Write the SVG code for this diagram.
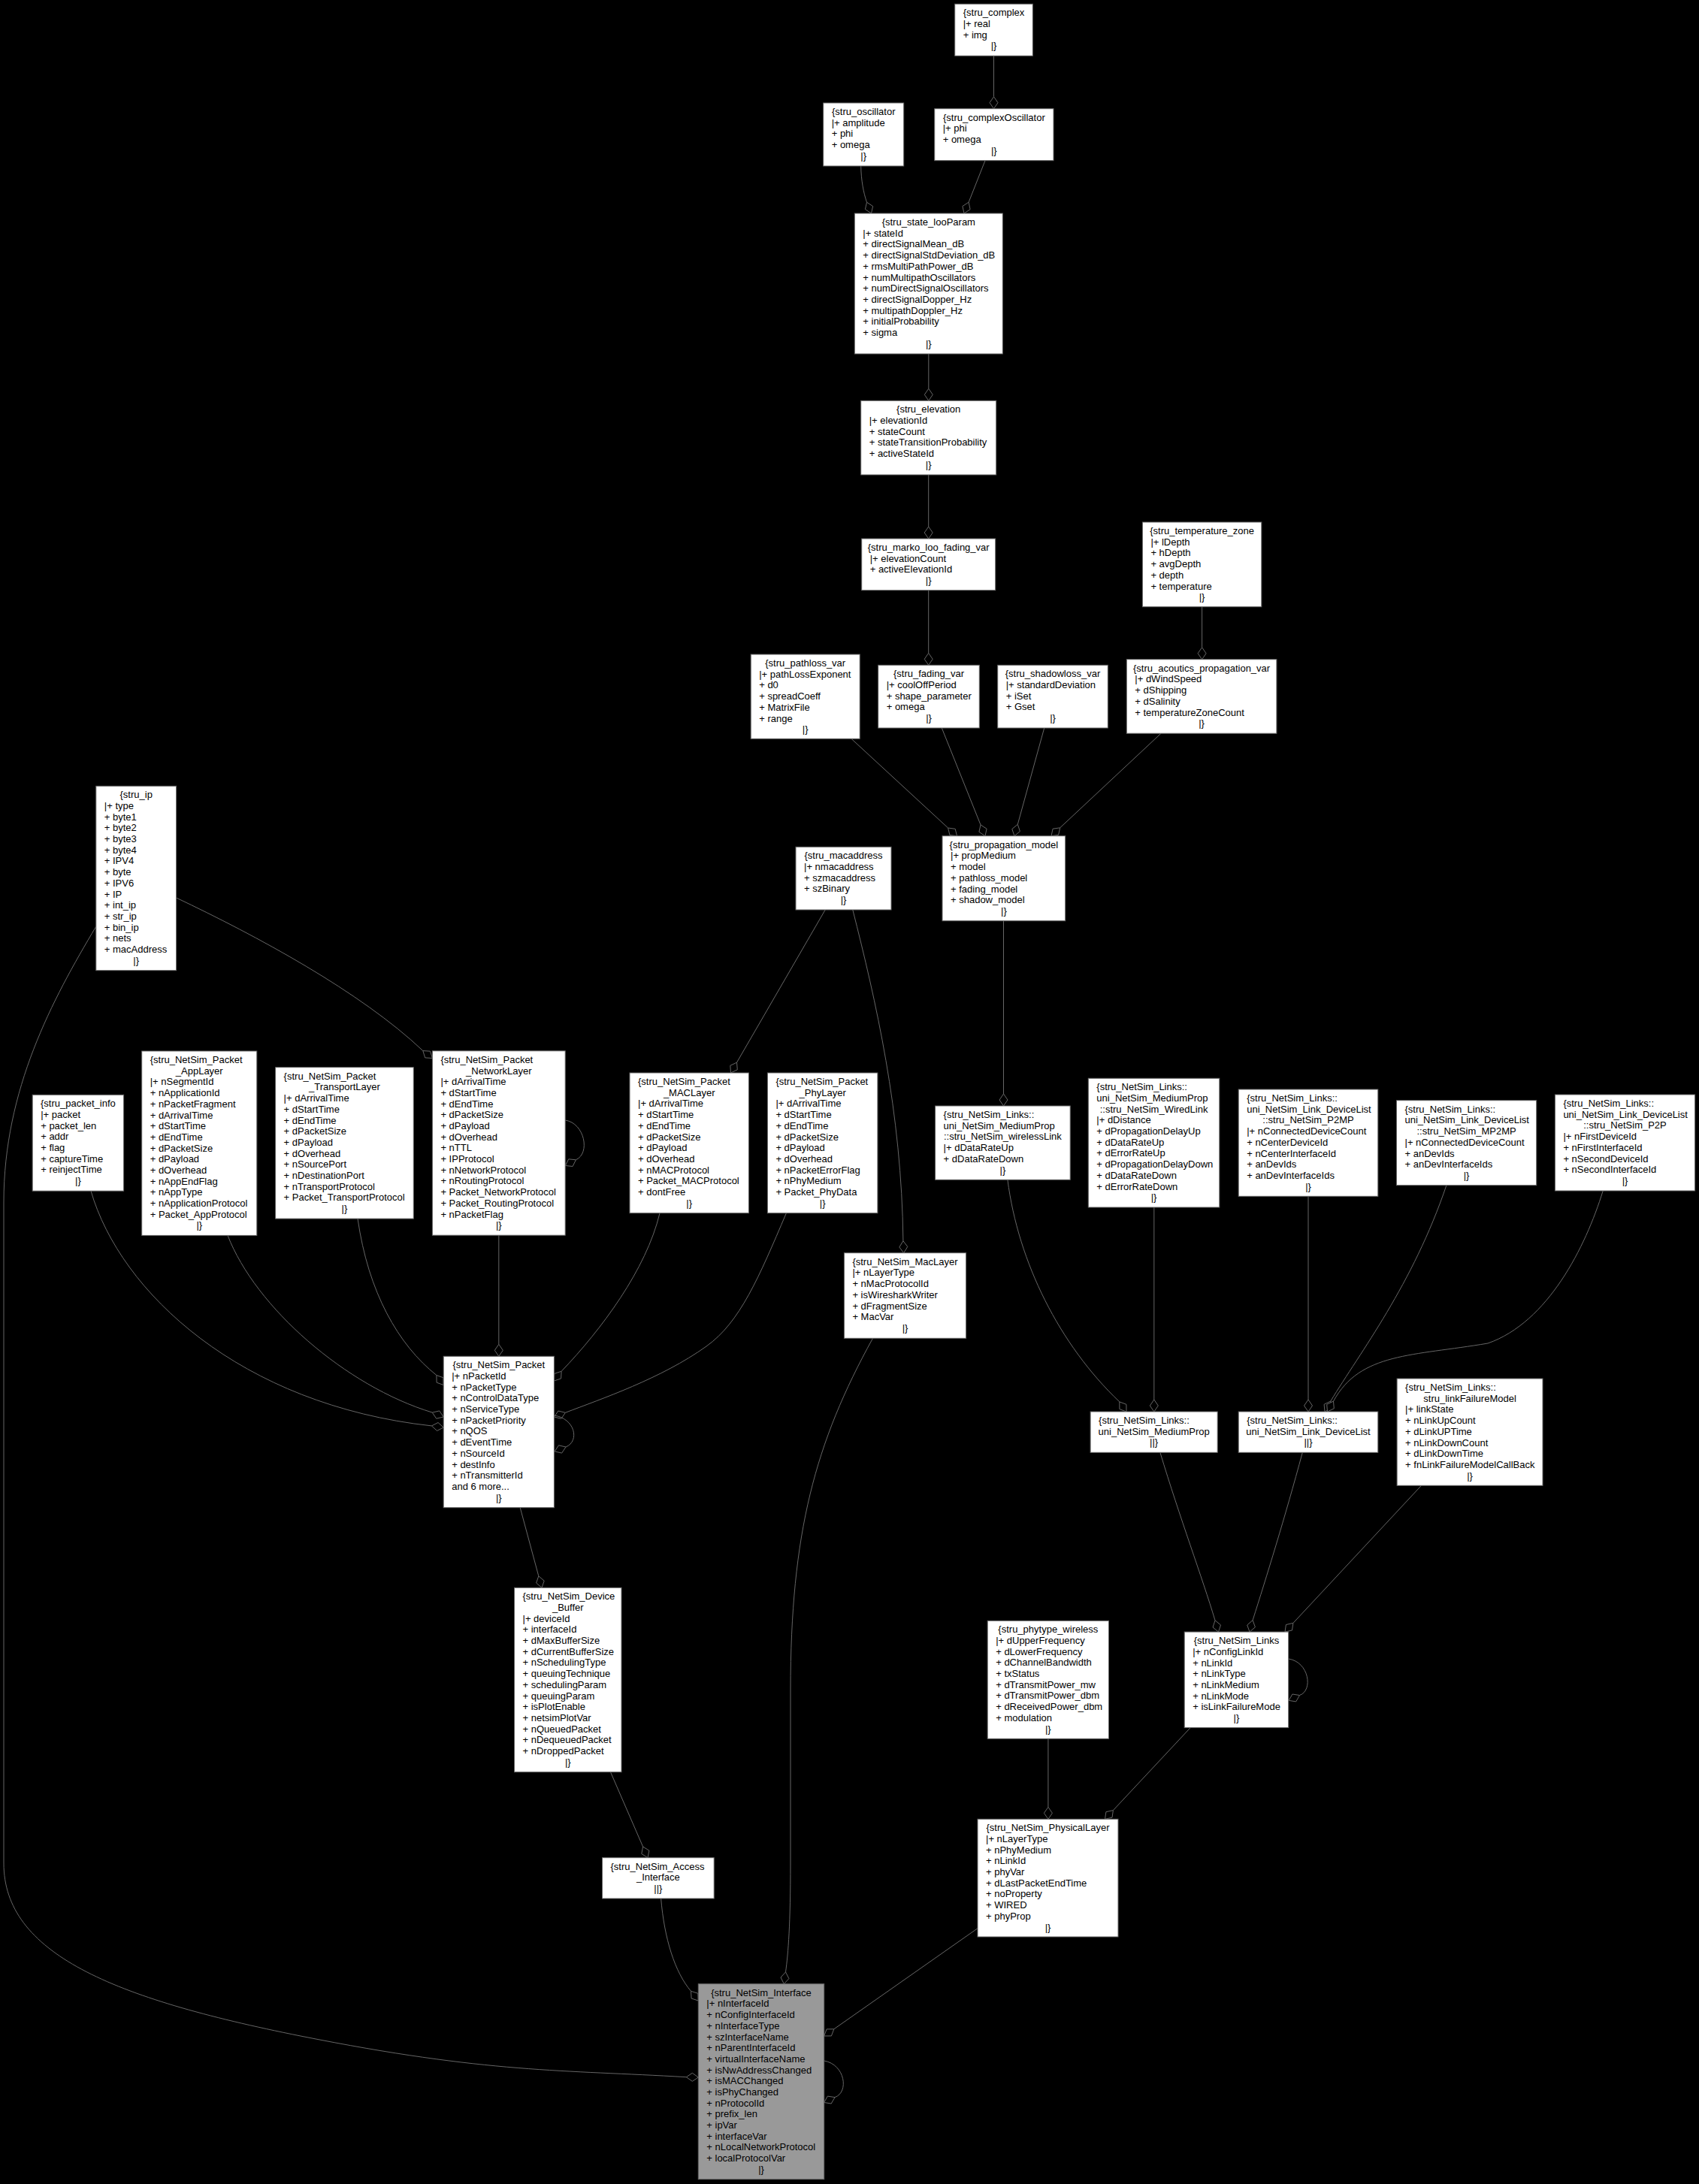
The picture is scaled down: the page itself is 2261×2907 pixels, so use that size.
<svg xmlns="http://www.w3.org/2000/svg" width="2261" height="2907" viewBox="0 0 2261 2907">
<style>
.node rect{fill:#fff;stroke:#666;stroke-width:1}
.node text{font-family:"Liberation Sans",Arial,sans-serif;font-size:13px;fill:#000}
.node text.c{text-anchor:middle}
#root rect{fill:#999}
#edges path{fill:none;stroke:#666;stroke-width:1}
#edges polygon{fill:#000;stroke:#666;stroke-width:1}
</style>
<rect x="0" y="0" width="2261" height="2907" fill="#000"/>
<g id="edges">
<path d="M1322.5,74.3 L1322.5,128.7"/><polygon points="1322.5,144.7 1317,136.7 1322.5,128.7 1328,136.7"/>
<path d="M1145.7,221 C1146,240 1149,256 1153.5,269.2"/><polygon points="1159.5,284 1151.4,278.6 1153.5,269.2 1161.6,274.5"/>
<path d="M1311,213.7 L1289.1,269.2"/><polygon points="1283,284 1280.9,274.5 1289.1,269.2 1291.1,278.7"/>
<path d="M1235.8,471 L1235.8,517.3"/><polygon points="1235.8,533.3 1230.3,525.3 1235.8,517.3 1241.3,525.3"/>
<path d="M1235.7,631.9 L1235.7,701"/><polygon points="1235.7,717 1230.2,709 1235.7,701 1241.2,709"/>
<path d="M1235.7,785.7 L1235.7,869.3"/><polygon points="1235.7,885.3 1230.2,877.3 1235.7,869.3 1241.2,877.3"/>
<path d="M1599.6,807.7 L1599.6,861.7"/><polygon points="1599.6,877.7 1594.1,869.7 1599.6,861.7 1605.1,869.7"/>
<path d="M1133,983.3 L1261.6,1102"/><polygon points="1273.5,1112.7 1263.9,1111.5 1261.6,1102 1271.2,1103.3"/>
<path d="M1253.3,969 L1305,1097.9"/><polygon points="1311,1112.7 1302.9,1107.3 1305,1097.9 1313.1,1103.2"/>
<path d="M1389.7,969 L1354.3,1097.3"/><polygon points="1350,1112.7 1346.8,1103.5 1354.3,1097.3 1357.4,1106.5"/>
<path d="M1545,976.2 L1410.7,1101.8"/><polygon points="1399,1112.7 1401.1,1103.2 1410.7,1101.8 1408.6,1111.3"/>
<path d="M1335.5,1225.7 L1335.5,1456"/><polygon points="1335.5,1472 1330,1464 1335.5,1456 1341,1464"/>
<path d="M1098.2,1211 L980.5,1414.2"/><polygon points="972.5,1428 971.8,1418.3 980.5,1414.2 981.3,1423.8"/>
<path d="M1134.8,1211 C1165,1330 1200,1480 1201.9,1651.7"/><polygon points="1202.7,1667.7 1196.8,1660 1201.9,1651.7 1207.8,1659.4"/>
<path d="M234.6,1195 C340,1245 480,1320 562.8,1398.6"/><polygon points="575.4,1408.5 565.7,1407.9 562.8,1398.6 572.5,1399.2"/>
<path d="M127.8,1233.3 C70,1330 5,1450 5,1600 L5,2480 C5,2600 150,2660 400,2710 C650,2760 750,2755 913.3,2764.7"/><polygon points="929.3,2765 921.3,2770.3 913.3,2764.7 921.3,2759.3"/>
<path d="M121,1585.2 C160,1720 320,1870 574.4,1897.9"/><polygon points="590.2,1900 581.6,1904.4 574.4,1897.9 583,1893.5"/>
<path d="M303,1644.4 C340,1740 460,1845 575.3,1880.1"/><polygon points="590.2,1886 580.7,1888.2 575.3,1880.1 584.8,1877.9"/>
<path d="M476,1622 C490,1720 530,1790 580.9,1830.5"/><polygon points="590.2,1843.5 581.1,1840.2 580.9,1830.5 590,1833.8"/>
<path d="M663.8,1644.2 L663.8,1789.3"/><polygon points="663.8,1805.3 658.3,1797.3 663.8,1789.3 669.3,1797.3"/>
<path d="M752.2,1491 C778,1495 786,1535 766.4,1543.8"/><polygon points="752.4,1551.5 756.7,1542.8 766.4,1543.8 762.1,1552.5"/>
<path d="M878,1614.7 C860,1690 800,1770 747.1,1825.3"/><polygon points="737.4,1838 737.9,1828.3 747.1,1825.3 746.6,1834.9"/>
<path d="M1046.4,1614.7 C1010,1700 985,1760 940,1792 C880,1835 800,1862 752.4,1880.3"/><polygon points="737.4,1886 742.9,1878 752.4,1880.3 746.8,1888.3"/>
<path d="M737.4,1884 C765,1888 772,1918 753,1926"/><polygon points="738.1,1931.9 743.5,1923.8 753,1926 747.6,1934.1"/>
<path d="M692.2,2006.7 L716.8,2097.9"/><polygon points="721,2113.3 713.6,2107 716.8,2097.9 724.2,2104.1"/>
<path d="M812.5,2358.7 L855.6,2458"/><polygon points="862,2472.7 853.8,2467.5 855.6,2458 863.9,2463.2"/>
<path d="M879.6,2527 C884,2580 898,2625 919.5,2650.3"/><polygon points="929.3,2663 920.1,2660 919.5,2650.3 928.8,2653.3"/>
<path d="M1161.5,1781.3 C1085,1920 1052,2040 1052,2250 L1052,2480 C1052,2560 1049,2600 1045.5,2624.9"/><polygon points="1043.3,2640.7 1039,2632 1045.5,2624.9 1049.9,2633.6"/>
<path d="M1301,2566.7 L1109.8,2700.8"/><polygon points="1096.7,2710 1100.1,2700.9 1109.8,2700.8 1106.4,2709.9"/>
<path d="M1096.7,2743 C1125,2748 1130,2785 1111,2791.6"/><polygon points="1096.6,2798.5 1101.4,2790.1 1111,2791.6 1106.2,2800"/>
<path d="M1394.9,2314.3 L1394.9,2405.3"/><polygon points="1394.9,2421.3 1389.4,2413.3 1394.9,2405.3 1400.4,2413.3"/>
<path d="M1584.2,2299.6 L1481.4,2409.6"/><polygon points="1470.5,2421.3 1471.9,2411.7 1481.4,2409.6 1480,2419.2"/>
<path d="M1714.7,2208 C1742,2212 1748,2250 1729.5,2256.5"/><polygon points="1715.1,2263.4 1719.9,2255 1729.5,2256.5 1724.7,2264.9"/>
<path d="M1543.9,1933.3 C1570,2020 1600,2100 1617,2156.8"/><polygon points="1621.5,2172.1 1614,2166 1617,2156.8 1624.5,2162.9"/>
<path d="M1733.3,1933.3 C1710,2020 1685,2100 1667.1,2156.6"/><polygon points="1663,2172.1 1659.7,2163 1667.1,2156.6 1670.4,2165.8"/>
<path d="M1891.5,1977.3 L1720.9,2160.4"/><polygon points="1710,2172.1 1711.4,2162.5 1720.9,2160.4 1719.5,2170"/>
<path d="M1340.9,1570.3 C1355,1680 1410,1790 1489.8,1865.9"/><polygon points="1499,1879 1489.9,1875.6 1489.8,1865.9 1498.9,1869.3"/>
<path d="M1535.8,1607 L1535.8,1863"/><polygon points="1535.8,1879 1530.3,1871 1535.8,1863 1541.3,1871"/>
<path d="M1741,1592.3 L1741,1863"/><polygon points="1741,1879 1735.5,1871 1741,1863 1746.5,1871"/>
<path d="M1924.9,1577.7 C1880,1710 1810,1800 1770.8,1865"/><polygon points="1763,1879 1762.1,1869.3 1770.8,1865 1771.7,1874.7"/>
<path d="M2133.2,1585 C2110,1660 2060,1760 1980,1788 C1880,1805 1810,1800 1774.5,1865.1"/><polygon points="1766.5,1879 1765.7,1869.3 1774.5,1865.1 1775.3,1874.8"/>
</g>

<g id="complex" class="node"><rect x="1270.7" y="5.3" width="103.6" height="69"/>
<text class="c" x="1322.5" y="21.3">{stru_complex</text>
<text x="1281.7" y="36">|+ real</text>
<text x="1281.7" y="50.7">+ img</text>
<text class="c" x="1322.5" y="65.4">|}</text></g>

<g id="oscillator" class="node"><rect x="1095.7" y="137" width="107" height="84"/>
<text class="c" x="1149.2" y="153">{stru_oscillator</text>
<text x="1106.7" y="167.7">|+ amplitude</text>
<text x="1106.7" y="182.4">+ phi</text>
<text x="1106.7" y="197.1">+ omega</text>
<text class="c" x="1149.2" y="211.8">|}</text></g>

<g id="complexOscillator" class="node"><rect x="1243.7" y="144.7" width="158.3" height="69"/>
<text class="c" x="1322.85" y="160.7">{stru_complexOscillator</text>
<text x="1254.7" y="175.4">|+ phi</text>
<text x="1254.7" y="190.1">+ omega</text>
<text class="c" x="1322.85" y="204.8">|}</text></g>

<g id="looParam" class="node"><rect x="1137.3" y="284" width="197" height="187"/>
<text class="c" x="1235.8" y="300">{stru_state_looParam</text>
<text x="1148.3" y="314.7">|+ stateId</text>
<text x="1148.3" y="329.4">+ directSignalMean_dB</text>
<text x="1148.3" y="344.1">+ directSignalStdDeviation_dB</text>
<text x="1148.3" y="358.8">+ rmsMultiPathPower_dB</text>
<text x="1148.3" y="373.5">+ numMultipathOscillators</text>
<text x="1148.3" y="388.1">+ numDirectSignalOscillators</text>
<text x="1148.3" y="402.8">+ directSignalDopper_Hz</text>
<text x="1148.3" y="417.5">+ multipathDoppler_Hz</text>
<text x="1148.3" y="432.2">+ initialProbability</text>
<text x="1148.3" y="446.9">+ sigma</text>
<text class="c" x="1235.8" y="461.6">|}</text></g>

<g id="elevation" class="node"><rect x="1145.7" y="533.3" width="180" height="98.7"/>
<text class="c" x="1235.7" y="549.3">{stru_elevation</text>
<text x="1156.7" y="564">|+ elevationId</text>
<text x="1156.7" y="578.7">+ stateCount</text>
<text x="1156.7" y="593.4">+ stateTransitionProbability</text>
<text x="1156.7" y="608.1">+ activeStateId</text>
<text class="c" x="1235.7" y="622.8">|}</text></g>

<g id="marko" class="node"><rect x="1146.7" y="717" width="178" height="68.7"/>
<text class="c" x="1235.7" y="733">{stru_marko_loo_fading_var</text>
<text x="1157.7" y="747.7">|+ elevationCount</text>
<text x="1157.7" y="762.4">+ activeElevationId</text>
<text class="c" x="1235.7" y="777.1">|}</text></g>

<g id="temperature_zone" class="node"><rect x="1520.4" y="695" width="158.4" height="112.7"/>
<text class="c" x="1599.6" y="711">{stru_temperature_zone</text>
<text x="1531.4" y="725.7">|+ lDepth</text>
<text x="1531.4" y="740.4">+ hDepth</text>
<text x="1531.4" y="755.1">+ avgDepth</text>
<text x="1531.4" y="769.8">+ depth</text>
<text x="1531.4" y="784.5">+ temperature</text>
<text class="c" x="1599.6" y="799.1">|}</text></g>

<g id="pathloss" class="node"><rect x="999.2" y="871" width="145" height="112.3"/>
<text class="c" x="1071.7" y="887">{stru_pathloss_var</text>
<text x="1010.2" y="901.7">|+ pathLossExponent</text>
<text x="1010.2" y="916.4">+ d0</text>
<text x="1010.2" y="931.1">+ spreadCoeff</text>
<text x="1010.2" y="945.8">+ MatrixFile</text>
<text x="1010.2" y="960.5">+ range</text>
<text class="c" x="1071.7" y="975.1">|}</text></g>

<g id="fading" class="node"><rect x="1168.7" y="885.3" width="134.6" height="83.7"/>
<text class="c" x="1236" y="901.3">{stru_fading_var</text>
<text x="1179.7" y="916">|+ coolOffPeriod</text>
<text x="1179.7" y="930.7">+ shape_parameter</text>
<text x="1179.7" y="945.4">+ omega</text>
<text class="c" x="1236" y="960.1">|}</text></g>

<g id="shadowloss" class="node"><rect x="1327.7" y="885.3" width="146.6" height="83.7"/>
<text class="c" x="1401" y="901.3">{stru_shadowloss_var</text>
<text x="1338.7" y="916">|+ standardDeviation</text>
<text x="1338.7" y="930.7">+ iSet</text>
<text x="1338.7" y="945.4">+ Gset</text>
<text class="c" x="1401" y="960.1">|}</text></g>

<g id="acoutics" class="node"><rect x="1499.3" y="877.7" width="199.6" height="98.5"/>
<text class="c" x="1599.1" y="893.7">{stru_acoutics_propagation_var</text>
<text x="1510.3" y="908.4">|+ dWindSpeed</text>
<text x="1510.3" y="923.1">+ dShipping</text>
<text x="1510.3" y="937.8">+ dSalinity</text>
<text x="1510.3" y="952.5">+ temperatureZoneCount</text>
<text class="c" x="1599.1" y="967.2">|}</text></g>

<g id="propagation_model" class="node"><rect x="1254" y="1112.7" width="163.7" height="113"/>
<text class="c" x="1335.9" y="1128.7">{stru_propagation_model</text>
<text x="1265" y="1143.4">|+ propMedium</text>
<text x="1265" y="1158.1">+ model</text>
<text x="1265" y="1172.8">+ pathloss_model</text>
<text x="1265" y="1187.5">+ fading_model</text>
<text x="1265" y="1202.2">+ shadow_model</text>
<text class="c" x="1335.9" y="1216.8">|}</text></g>

<g id="macaddress" class="node"><rect x="1059" y="1127.3" width="127" height="83.7"/>
<text class="c" x="1122.5" y="1143.3">{stru_macaddress</text>
<text x="1070" y="1158">|+ nmacaddress</text>
<text x="1070" y="1172.7">+ szmacaddress</text>
<text x="1070" y="1187.4">+ szBinary</text>
<text class="c" x="1122.5" y="1202.1">|}</text></g>

<g id="ip" class="node"><rect x="127.8" y="1046.3" width="106.8" height="245.4"/>
<text class="c" x="181.2" y="1062.3">{stru_ip</text>
<text x="138.8" y="1077">|+ type</text>
<text x="138.8" y="1091.7">+ byte1</text>
<text x="138.8" y="1106.4">+ byte2</text>
<text x="138.8" y="1121.1">+ byte3</text>
<text x="138.8" y="1135.8">+ byte4</text>
<text x="138.8" y="1150.4">+ IPV4</text>
<text x="138.8" y="1165.1">+ byte</text>
<text x="138.8" y="1179.8">+ IPV6</text>
<text x="138.8" y="1194.5">+ IP</text>
<text x="138.8" y="1209.2">+ int_ip</text>
<text x="138.8" y="1223.9">+ str_ip</text>
<text x="138.8" y="1238.6">+ bin_ip</text>
<text x="138.8" y="1253.3">+ nets</text>
<text x="138.8" y="1268">+ macAddress</text>
<text class="c" x="181.2" y="1282.7">|}</text></g>

<g id="packet_info" class="node"><rect x="43.2" y="1457.3" width="121.4" height="127.9"/>
<text class="c" x="103.9" y="1473.3">{stru_packet_info</text>
<text x="54.2" y="1488">|+ packet</text>
<text x="54.2" y="1502.7">+ packet_len</text>
<text x="54.2" y="1517.4">+ addr</text>
<text x="54.2" y="1532.1">+ flag</text>
<text x="54.2" y="1546.8">+ captureTime</text>
<text x="54.2" y="1561.4">+ reinjectTime</text>
<text class="c" x="103.9" y="1576.1">|}</text></g>

<g id="AppLayer" class="node"><rect x="188.7" y="1399" width="153.1" height="245.4"/>
<text x="199.7" y="1415">{stru_NetSim_Packet</text>
<text class="c" x="265.25" y="1429.7">_AppLayer</text>
<text x="199.7" y="1444.4">|+ nSegmentId</text>
<text x="199.7" y="1459.1">+ nApplicationId</text>
<text x="199.7" y="1473.8">+ nPacketFragment</text>
<text x="199.7" y="1488.5">+ dArrivalTime</text>
<text x="199.7" y="1503.1">+ dStartTime</text>
<text x="199.7" y="1517.8">+ dEndTime</text>
<text x="199.7" y="1532.5">+ dPacketSize</text>
<text x="199.7" y="1547.2">+ dPayload</text>
<text x="199.7" y="1561.9">+ dOverhead</text>
<text x="199.7" y="1576.6">+ nAppEndFlag</text>
<text x="199.7" y="1591.3">+ nAppType</text>
<text x="199.7" y="1606">+ nApplicationProtocol</text>
<text x="199.7" y="1620.7">+ Packet_AppProtocol</text>
<text class="c" x="265.25" y="1635.4">|}</text></g>

<g id="TransportLayer" class="node"><rect x="366.6" y="1420.7" width="183.7" height="201.4"/>
<text x="377.6" y="1436.7">{stru_NetSim_Packet</text>
<text class="c" x="458.45" y="1451.4">_TransportLayer</text>
<text x="377.6" y="1466.1">|+ dArrivalTime</text>
<text x="377.6" y="1480.8">+ dStartTime</text>
<text x="377.6" y="1495.5">+ dEndTime</text>
<text x="377.6" y="1510.2">+ dPacketSize</text>
<text x="377.6" y="1524.8">+ dPayload</text>
<text x="377.6" y="1539.5">+ dOverhead</text>
<text x="377.6" y="1554.2">+ nSourcePort</text>
<text x="377.6" y="1568.9">+ nDestinationPort</text>
<text x="377.6" y="1583.6">+ nTransportProtocol</text>
<text x="377.6" y="1598.3">+ Packet_TransportProtocol</text>
<text class="c" x="458.45" y="1613">|}</text></g>

<g id="NetworkLayer" class="node"><rect x="575.4" y="1398.8" width="176.8" height="245.4"/>
<text x="586.4" y="1414.8">{stru_NetSim_Packet</text>
<text class="c" x="663.8" y="1429.5">_NetworkLayer</text>
<text x="586.4" y="1444.2">|+ dArrivalTime</text>
<text x="586.4" y="1458.9">+ dStartTime</text>
<text x="586.4" y="1473.6">+ dEndTime</text>
<text x="586.4" y="1488.3">+ dPacketSize</text>
<text x="586.4" y="1502.9">+ dPayload</text>
<text x="586.4" y="1517.6">+ dOverhead</text>
<text x="586.4" y="1532.3">+ nTTL</text>
<text x="586.4" y="1547">+ IPProtocol</text>
<text x="586.4" y="1561.7">+ nNetworkProtocol</text>
<text x="586.4" y="1576.4">+ nRoutingProtocol</text>
<text x="586.4" y="1591.1">+ Packet_NetworkProtocol</text>
<text x="586.4" y="1605.8">+ Packet_RoutingProtocol</text>
<text x="586.4" y="1620.5">+ nPacketFlag</text>
<text class="c" x="663.8" y="1635.2">|}</text></g>

<g id="MACLayer" class="node"><rect x="838" y="1428" width="158.4" height="186.7"/>
<text x="849" y="1444">{stru_NetSim_Packet</text>
<text class="c" x="917.2" y="1458.7">_MACLayer</text>
<text x="849" y="1473.4">|+ dArrivalTime</text>
<text x="849" y="1488.1">+ dStartTime</text>
<text x="849" y="1502.8">+ dEndTime</text>
<text x="849" y="1517.5">+ dPacketSize</text>
<text x="849" y="1532.1">+ dPayload</text>
<text x="849" y="1546.8">+ dOverhead</text>
<text x="849" y="1561.5">+ nMACProtocol</text>
<text x="849" y="1576.2">+ Packet_MACProtocol</text>
<text x="849" y="1590.9">+ dontFree</text>
<text class="c" x="917.2" y="1605.6">|}</text></g>

<g id="PhyLayer" class="node"><rect x="1021.4" y="1428" width="146.5" height="186.7"/>
<text x="1032.4" y="1444">{stru_NetSim_Packet</text>
<text class="c" x="1094.65" y="1458.7">_PhyLayer</text>
<text x="1032.4" y="1473.4">|+ dArrivalTime</text>
<text x="1032.4" y="1488.1">+ dStartTime</text>
<text x="1032.4" y="1502.8">+ dEndTime</text>
<text x="1032.4" y="1517.5">+ dPacketSize</text>
<text x="1032.4" y="1532.1">+ dPayload</text>
<text x="1032.4" y="1546.8">+ dOverhead</text>
<text x="1032.4" y="1561.5">+ nPacketErrorFlag</text>
<text x="1032.4" y="1576.2">+ nPhyMedium</text>
<text x="1032.4" y="1590.9">+ Packet_PhyData</text>
<text class="c" x="1094.65" y="1605.6">|}</text></g>

<g id="MacLayer" class="node"><rect x="1123.4" y="1667.7" width="162.2" height="113.6"/>
<text class="c" x="1204.5" y="1683.7">{stru_NetSim_MacLayer</text>
<text x="1134.4" y="1698.4">|+ nLayerType</text>
<text x="1134.4" y="1713.1">+ nMacProtocolId</text>
<text x="1134.4" y="1727.8">+ isWiresharkWriter</text>
<text x="1134.4" y="1742.5">+ dFragmentSize</text>
<text x="1134.4" y="1757.2">+ MacVar</text>
<text class="c" x="1204.5" y="1771.8">|}</text></g>

<g id="Packet" class="node"><rect x="590.2" y="1805.3" width="147.2" height="201.4"/>
<text class="c" x="663.8" y="1821.3">{stru_NetSim_Packet</text>
<text x="601.2" y="1836">|+ nPacketId</text>
<text x="601.2" y="1850.7">+ nPacketType</text>
<text x="601.2" y="1865.4">+ nControlDataType</text>
<text x="601.2" y="1880.1">+ nServiceType</text>
<text x="601.2" y="1894.8">+ nPacketPriority</text>
<text x="601.2" y="1909.4">+ nQOS</text>
<text x="601.2" y="1924.1">+ dEventTime</text>
<text x="601.2" y="1938.8">+ nSourceId</text>
<text x="601.2" y="1953.5">+ destInfo</text>
<text x="601.2" y="1968.2">+ nTransmitterId</text>
<text x="601.2" y="1982.9">and 6 more...</text>
<text class="c" x="663.8" y="1997.6">|}</text></g>

<g id="Device_Buffer" class="node"><rect x="684.5" y="2113.3" width="142.5" height="245.4"/>
<text x="695.5" y="2129.3">{stru_NetSim_Device</text>
<text class="c" x="755.75" y="2144">_Buffer</text>
<text x="695.5" y="2158.7">|+ deviceId</text>
<text x="695.5" y="2173.4">+ interfaceId</text>
<text x="695.5" y="2188.1">+ dMaxBufferSize</text>
<text x="695.5" y="2202.8">+ dCurrentBufferSize</text>
<text x="695.5" y="2217.4">+ nSchedulingType</text>
<text x="695.5" y="2232.1">+ queuingTechnique</text>
<text x="695.5" y="2246.8">+ schedulingParam</text>
<text x="695.5" y="2261.5">+ queuingParam</text>
<text x="695.5" y="2276.2">+ isPlotEnable</text>
<text x="695.5" y="2290.9">+ netsimPlotVar</text>
<text x="695.5" y="2305.6">+ nQueuedPacket</text>
<text x="695.5" y="2320.3">+ nDequeuedPacket</text>
<text x="695.5" y="2335">+ nDroppedPacket</text>
<text class="c" x="755.75" y="2349.7">|}</text></g>

<g id="Access_Interface" class="node"><rect x="801.5" y="2472.7" width="148.7" height="54.3"/>
<text x="812.5" y="2488.7">{stru_NetSim_Access</text>
<text class="c" x="875.85" y="2503.4">_Interface</text>
<text class="c" x="875.85" y="2518.1">||}</text></g>

<g id="root" class="node"><rect x="929.3" y="2640.7" width="167.4" height="260"/>
<text class="c" x="1013" y="2656.7">{stru_NetSim_Interface</text>
<text x="940.3" y="2671.4">|+ nInterfaceId</text>
<text x="940.3" y="2686.1">+ nConfigInterfaceId</text>
<text x="940.3" y="2700.8">+ nInterfaceType</text>
<text x="940.3" y="2715.5">+ szInterfaceName</text>
<text x="940.3" y="2730.2">+ nParentInterfaceId</text>
<text x="940.3" y="2744.8">+ virtualInterfaceName</text>
<text x="940.3" y="2759.5">+ isNwAddressChanged</text>
<text x="940.3" y="2774.2">+ isMACChanged</text>
<text x="940.3" y="2788.9">+ isPhyChanged</text>
<text x="940.3" y="2803.6">+ nProtocolId</text>
<text x="940.3" y="2818.3">+ prefix_len</text>
<text x="940.3" y="2833">+ ipVar</text>
<text x="940.3" y="2847.7">+ interfaceVar</text>
<text x="940.3" y="2862.4">+ nLocalNetworkProtocol</text>
<text x="940.3" y="2877.1">+ localProtocolVar</text>
<text class="c" x="1013" y="2891.7">|}</text></g>

<g id="phytype_wireless" class="node"><rect x="1314.2" y="2157.3" width="161.3" height="157"/>
<text class="c" x="1394.85" y="2173.3">{stru_phytype_wireless</text>
<text x="1325.2" y="2188">|+ dUpperFrequency</text>
<text x="1325.2" y="2202.7">+ dLowerFrequency</text>
<text x="1325.2" y="2217.4">+ dChannelBandwidth</text>
<text x="1325.2" y="2232.1">+ txStatus</text>
<text x="1325.2" y="2246.8">+ dTransmitPower_mw</text>
<text x="1325.2" y="2261.4">+ dTransmitPower_dbm</text>
<text x="1325.2" y="2276.1">+ dReceivedPower_dbm</text>
<text x="1325.2" y="2290.8">+ modulation</text>
<text class="c" x="1394.85" y="2305.5">|}</text></g>

<g id="PhysicalLayer" class="node"><rect x="1301" y="2421.3" width="187" height="156.7"/>
<text class="c" x="1394.5" y="2437.3">{stru_NetSim_PhysicalLayer</text>
<text x="1312" y="2452">|+ nLayerType</text>
<text x="1312" y="2466.7">+ nPhyMedium</text>
<text x="1312" y="2481.4">+ nLinkId</text>
<text x="1312" y="2496.1">+ phyVar</text>
<text x="1312" y="2510.8">+ dLastPacketEndTime</text>
<text x="1312" y="2525.4">+ noProperty</text>
<text x="1312" y="2540.1">+ WIRED</text>
<text x="1312" y="2554.8">+ phyProp</text>
<text class="c" x="1394.5" y="2569.5">|}</text></g>

<g id="Links" class="node"><rect x="1576.2" y="2172.1" width="138.5" height="127.5"/>
<text class="c" x="1645.45" y="2188.1">{stru_NetSim_Links</text>
<text x="1587.2" y="2202.8">|+ nConfigLinkId</text>
<text x="1587.2" y="2217.5">+ nLinkId</text>
<text x="1587.2" y="2232.2">+ nLinkType</text>
<text x="1587.2" y="2246.9">+ nLinkMedium</text>
<text x="1587.2" y="2261.6">+ nLinkMode</text>
<text x="1587.2" y="2276.2">+ isLinkFailureMode</text>
<text class="c" x="1645.45" y="2290.9">|}</text></g>

<g id="MediumProp" class="node"><rect x="1451.1" y="1879" width="169.1" height="54.3"/>
<text x="1462.1" y="1895">{stru_NetSim_Links::</text>
<text class="c" x="1535.65" y="1909.7">uni_NetSim_MediumProp</text>
<text class="c" x="1535.65" y="1924.4">||}</text></g>

<g id="DeviceList" class="node"><rect x="1648.2" y="1879" width="185.6" height="54.3"/>
<text x="1659.2" y="1895">{stru_NetSim_Links::</text>
<text class="c" x="1741" y="1909.7">uni_NetSim_Link_DeviceList</text>
<text class="c" x="1741" y="1924.4">||}</text></g>

<g id="linkFailureModel" class="node"><rect x="1859.1" y="1835" width="193.9" height="142.3"/>
<text x="1870.1" y="1851">{stru_NetSim_Links::</text>
<text class="c" x="1956.05" y="1865.7">stru_linkFailureModel</text>
<text x="1870.1" y="1880.4">|+ linkState</text>
<text x="1870.1" y="1895.1">+ nLinkUpCount</text>
<text x="1870.1" y="1909.8">+ dLinkUPTime</text>
<text x="1870.1" y="1924.5">+ nLinkDownCount</text>
<text x="1870.1" y="1939.1">+ dLinkDownTime</text>
<text x="1870.1" y="1953.8">+ fnLinkFailureModelCallBack</text>
<text class="c" x="1956.05" y="1968.5">|}</text></g>

<g id="wirelessLink" class="node"><rect x="1244.6" y="1472" width="179.6" height="98.3"/>
<text x="1255.6" y="1488">{stru_NetSim_Links::</text>
<text x="1255.6" y="1502.7">uni_NetSim_MediumProp</text>
<text class="c" x="1334.4" y="1517.4">::stru_NetSim_wirelessLink</text>
<text x="1255.6" y="1532.1">|+ dDataRateUp</text>
<text x="1255.6" y="1546.8">+ dDataRateDown</text>
<text class="c" x="1334.4" y="1561.5">|}</text></g>

<g id="WiredLink" class="node"><rect x="1448.3" y="1435.3" width="174.5" height="171.7"/>
<text x="1459.3" y="1451.3">{stru_NetSim_Links::</text>
<text x="1459.3" y="1466">uni_NetSim_MediumProp</text>
<text class="c" x="1535.55" y="1480.7">::stru_NetSim_WiredLink</text>
<text x="1459.3" y="1495.4">|+ dDistance</text>
<text x="1459.3" y="1510.1">+ dPropagationDelayUp</text>
<text x="1459.3" y="1524.8">+ dDataRateUp</text>
<text x="1459.3" y="1539.4">+ dErrorRateUp</text>
<text x="1459.3" y="1554.1">+ dPropagationDelayDown</text>
<text x="1459.3" y="1568.8">+ dDataRateDown</text>
<text x="1459.3" y="1583.5">+ dErrorRateDown</text>
<text class="c" x="1535.55" y="1598.2">|}</text></g>

<g id="P2MP" class="node"><rect x="1648.2" y="1450" width="185.6" height="142.3"/>
<text x="1659.2" y="1466">{stru_NetSim_Links::</text>
<text x="1659.2" y="1480.7">uni_NetSim_Link_DeviceList</text>
<text class="c" x="1741" y="1495.4">::stru_NetSim_P2MP</text>
<text x="1659.2" y="1510.1">|+ nConnectedDeviceCount</text>
<text x="1659.2" y="1524.8">+ nCenterDeviceId</text>
<text x="1659.2" y="1539.5">+ nCenterInterfaceId</text>
<text x="1659.2" y="1554.1">+ anDevIds</text>
<text x="1659.2" y="1568.8">+ anDevInterfaceIds</text>
<text class="c" x="1741" y="1583.5">|}</text></g>

<g id="MP2MP" class="node"><rect x="1858.5" y="1464.7" width="186.2" height="113"/>
<text x="1869.5" y="1480.7">{stru_NetSim_Links::</text>
<text x="1869.5" y="1495.4">uni_NetSim_Link_DeviceList</text>
<text class="c" x="1951.6" y="1510.1">::stru_NetSim_MP2MP</text>
<text x="1869.5" y="1524.8">|+ nConnectedDeviceCount</text>
<text x="1869.5" y="1539.5">+ anDevIds</text>
<text x="1869.5" y="1554.2">+ anDevInterfaceIds</text>
<text class="c" x="1951.6" y="1568.8">|}</text></g>

<g id="P2P" class="node"><rect x="2069.4" y="1457" width="186.2" height="128"/>
<text x="2080.4" y="1473">{stru_NetSim_Links::</text>
<text x="2080.4" y="1487.7">uni_NetSim_Link_DeviceList</text>
<text class="c" x="2162.5" y="1502.4">::stru_NetSim_P2P</text>
<text x="2080.4" y="1517.1">|+ nFirstDeviceId</text>
<text x="2080.4" y="1531.8">+ nFirstInterfaceId</text>
<text x="2080.4" y="1546.5">+ nSecondDeviceId</text>
<text x="2080.4" y="1561.1">+ nSecondInterfaceId</text>
<text class="c" x="2162.5" y="1575.8">|}</text></g>
</svg>
